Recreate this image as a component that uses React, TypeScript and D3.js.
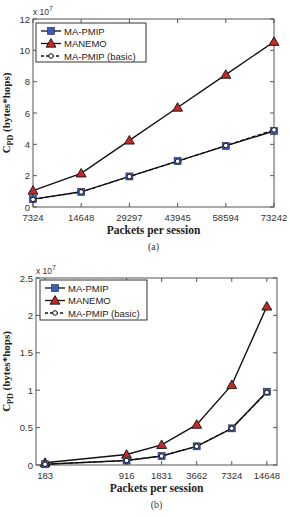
import React from "react";
import * as d3 from "d3";

// panel (a): packets per session, equally spaced
const pktA = [7324, 14648, 29297, 43945, 58594, 73242];
const maPmipA = [0.5, 0.97, 1.95, 2.93, 3.9, 4.85];
const manemoA = [1.05, 2.15, 4.25, 6.35, 8.45, 10.55];
const basicA = [0.48, 0.96, 1.94, 2.92, 3.92, 4.92];
const yTicksA = [0, 2, 4, 6, 8, 10, 12];

// panel (b): packets per session, log spaced
const pktB = [183, 916, 1831, 3662, 7324, 14648];
const maPmipB = [0.01, 0.06, 0.12, 0.25, 0.49, 0.98];
const manemoB = [0.03, 0.14, 0.27, 0.54, 1.07, 2.12];
const basicB = [0.01, 0.06, 0.12, 0.25, 0.49, 0.97];
const yTicksB = [0, 0.5, 1, 1.5, 2, 2.5];

const seriesNames = ["MA-PMIP", "MANEMO", "MA-PMIP (basic)"];

const SANS = "'Liberation Sans', Arial, sans-serif";
const SERIF = "'Liberation Serif', 'Times New Roman', serif";
const AXIS = "#555";
const BLUE = "#3a5cc0";
const RED = "#c62828";

type PanelProps = {
  top: number;
  left: number;
  right: number;
  height: number;
  x: (v: number) => number;
  xs: number[];
  y: d3.ScaleLinear<number, number>;
  yTicks: number[];
  yFmt: (v: number) => string;
  series: number[][];
  tag: string;
  legend: { x: number; y: number; w: number; h: number };
};

function Square({ cx, cy }: { cx: number; cy: number }) {
  return <rect x={cx - 3.5} y={cy - 3.5} width={7} height={7} fill={BLUE} stroke="#223" strokeWidth={0.6} />;
}
function Triangle({ cx, cy }: { cx: number; cy: number }) {
  const p = d3.symbol().type(d3.symbolTriangle).size(42)();
  return <path d={p || ""} transform={`translate(${cx},${cy + 0.8})`} fill={RED} stroke="#111" strokeWidth={0.9} />;
}
function Circle({ cx, cy }: { cx: number; cy: number }) {
  return <circle cx={cx} cy={cy} r={2.3} fill="#fff" stroke="#111" strokeWidth={1} />;
}

function Panel(p: PanelProps) {
  const { top, left, right, height, x, xs, y, yTicks, yFmt, series, tag, legend } = p;
  const bottom = top + height;
  const line = d3
    .line<number>()
    .x((_, i) => x(xs[i]))
    .y((d) => y(d));
  const [pm, mn, bs] = series;
  const tl = 4;
  return (
    <g>
      {/* box and inward ticks */}
      <rect x={left} y={top} width={right - left} height={height} fill="none" stroke={AXIS} strokeWidth={1} />
      {xs.map((v) => (
        <g key={"xt" + v}>
          <line x1={x(v)} x2={x(v)} y1={bottom} y2={bottom - tl} stroke={AXIS} />
          <line x1={x(v)} x2={x(v)} y1={top} y2={top + tl} stroke={AXIS} />
          <text x={x(v)} y={bottom + 13.5} textAnchor="middle" fontFamily={SANS} fontSize={9.5} fill="#333">
            {v}
          </text>
        </g>
      ))}
      {yTicks.map((v) => (
        <g key={"yt" + v}>
          <line x1={left} x2={left + tl} y1={y(v)} y2={y(v)} stroke={AXIS} />
          <line x1={right} x2={right - tl} y1={y(v)} y2={y(v)} stroke={AXIS} />
          <text x={left - 3} y={y(v) + 3.5} textAnchor="end" fontFamily={SANS} fontSize={9.5} fill="#333">
            {yFmt(v)}
          </text>
        </g>
      ))}
      <text x={left} y={top - 4} fontFamily={SANS} fontSize={8.5} fill="#333">
        x 10<tspan dy={-4} fontSize={7}>7</tspan>
      </text>

      {/* series */}
      <path d={line(mn) || ""} fill="none" stroke="#111" strokeWidth={1.4} />
      <path d={line(pm) || ""} fill="none" stroke="#111" strokeWidth={1.4} />
      <path d={line(bs) || ""} fill="none" stroke="#111" strokeWidth={1.2} strokeDasharray="4,2" />
      {mn.map((v, i) => (
        <Triangle key={"m" + i} cx={x(xs[i])} cy={y(v)} />
      ))}
      {pm.map((v, i) => (
        <Square key={"p" + i} cx={x(xs[i])} cy={y(v)} />
      ))}
      {bs.map((v, i) => (
        <Circle key={"b" + i} cx={x(xs[i])} cy={y(v)} />
      ))}

      {/* legend */}
      <rect x={legend.x} y={legend.y} width={legend.w} height={legend.h} fill="#fff" stroke="#333" strokeWidth={1} />
      {seriesNames.map((name, i) => {
        const ly = legend.y + 8 + i * 12.5;
        const lx0 = legend.x + 5;
        const lx1 = legend.x + 25;
        const mx = (lx0 + lx1) / 2;
        return (
          <g key={name}>
            <line x1={lx0} x2={lx1} y1={ly} y2={ly} stroke="#111" strokeWidth={1.3} strokeDasharray={i === 2 ? "3,2" : undefined} />
            {i === 0 && <Square cx={mx} cy={ly} />}
            {i === 1 && <Triangle cx={mx} cy={ly} />}
            {i === 2 && <Circle cx={mx} cy={ly} />}
            <text x={lx1 + 3} y={ly + 3.5} fontFamily={SANS} fontSize={9.5} fill="#222">
              {name}
            </text>
          </g>
        );
      })}

      {/* titles */}
      <text
        transform={`translate(10,${top + height / 2}) rotate(-90)`}
        textAnchor="middle"
        fontFamily={SERIF}
        fontWeight="bold"
        fontSize={11}
        fill="#222"
      >
        C<tspan fontSize={8} dy={3}>PD</tspan>
        <tspan dy={-3}> (bytes*hops)</tspan>
      </text>
      <text x={(left + right) / 2} y={bottom + 27} textAnchor="middle" fontFamily={SERIF} fontWeight="bold" fontSize={11.5} fill="#222">
        Packets per session
      </text>
      <text x={(left + right) / 2} y={bottom + 43} textAnchor="middle" fontFamily={SERIF} fontSize={10} fill="#333">
        {tag}
      </text>
    </g>
  );
}

export default function App() {
  const W = 290;
  const H = 517;

  // panel (a)
  const topA = 19;
  const hA = 188;
  const xA = d3.scalePoint<number>().domain(pktA).range([33, 274]);
  const yA = d3.scaleLinear().domain([0, 12]).range([topA + hA, topA]);

  // panel (b)
  const topB = 278;
  const hB = 187;
  const xB = d3.scaleLog().domain([153, 17900]).range([36, 277]);
  const yB = d3.scaleLinear().domain([0, 2.5]).range([topB + hB, topB]);

  return (
    <svg width={W} height={H} style={{ position: "absolute", left: 0, top: 0, background: "#fff" }}>
      <Panel
        top={topA}
        left={33}
        right={274}
        height={hA}
        x={(v) => xA(v) as number}
        xs={pktA}
        y={yA}
        yTicks={yTicksA}
        yFmt={(v) => String(v)}
        series={[maPmipA, manemoA, basicA]}
        tag="(a)"
        legend={{ x: 36, y: 23, w: 110, h: 39 }}
      />
      <Panel
        top={topB}
        left={36}
        right={277}
        height={hB}
        x={(v) => xB(v)}
        xs={pktB}
        y={yB}
        yTicks={yTicksB}
        yFmt={(v) => String(v)}
        series={[maPmipB, manemoB, basicB]}
        tag="(b)"
        legend={{ x: 40, y: 280, w: 107, h: 40 }}
      />
    </svg>
  );
}
